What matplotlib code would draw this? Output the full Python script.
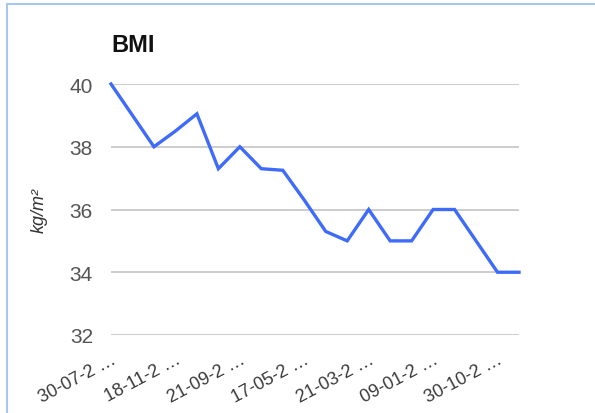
import matplotlib.pyplot as plt
from matplotlib.patches import Rectangle

plt.rcParams['font.family'] = ['Liberation Sans', 'DejaVu Sans']

# BMI readings, one per visit (20 visits)
bmi = [40.0, 39.0, 38.0, 38.5, 39.05, 37.3, 38.0, 37.3, 37.25, 36.3,
       35.3, 35.0, 36.0, 35.0, 35.0, 36.0, 36.0, 35.0, 34.0, 34.0]
# only every third visit date is shown on the axis
tick_idx = [0, 3, 6, 9, 12, 15, 18]
tick_labels = ['30-07-2 …', '18-11-2 …', '21-09-2 …', '17-05-2 …',
               '21-03-2 …', '09-01-2 …', '30-10-2 …']
yticks = [32, 34, 36, 38, 40]

fig = plt.figure(figsize=(5.95, 4.14), dpi=100)
ax = fig.add_axes([111/595, 1 - 336/414, (519 - 111)/595, (336 - 85)/414])

ax.plot(range(len(bmi)), bmi, color='#3f6bfa', lw=2.4, clip_on=False,
        solid_joinstyle='miter', zorder=3)

ax.set_xlim(0, len(bmi) - 1)
ax.set_ylim(32, 40)
ax.set_yticks(yticks)
ax.set_xticks(tick_idx)
ax.set_xticklabels(tick_labels, rotation=28, ha='right',
                   rotation_mode='anchor', fontsize=13, color='#3a3a3a')
ax.tick_params(axis='y', length=0, pad=13, labelsize=15, labelcolor='#555555')
ax.tick_params(axis='x', length=0, pad=11)
ax.grid(axis='y', color='#cccccc', lw=1.4)
ax.set_axisbelow(True)
for s in ax.spines.values():
    s.set_visible(False)

ax.set_ylabel('kg/m²', style='italic', fontsize=13, color='#333333', labelpad=16)
fig.text(111/595, 1 - 45/414, 'BMI', fontsize=17, fontweight='bold',
         va='center', ha='left', color='#111111')

# chart frame
fig.patches.append(Rectangle((7/595, -0.01), 1.0, 1 - 5/414 + 0.01,
                             transform=fig.transFigure, fill=False,
                             edgecolor='#a9c6ee', lw=1.5))

fig.savefig('out.png', dpi=100)
